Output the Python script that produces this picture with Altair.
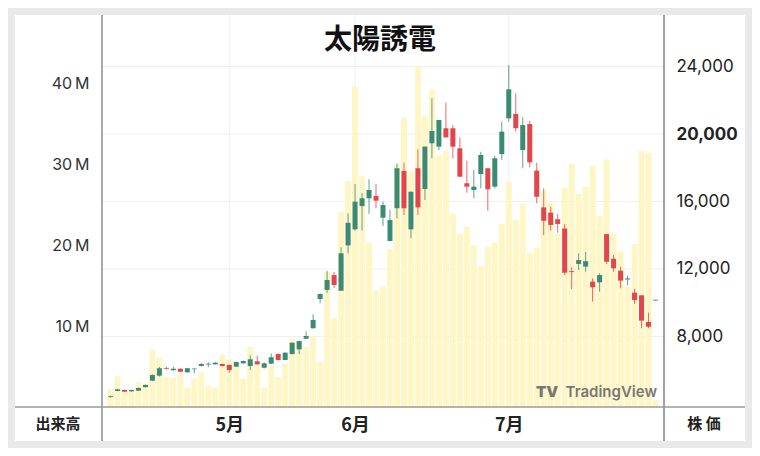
import altair as alt
import pandas as pd

# ---- data (index = trading day) ----
opens = [4410, 4770, 4830, 4750, 4790, 5000, 5380, 5680, 6140, 6000,
         6090, 5880, 6060, 6250, 6340, 6350, 6370, 6310, 6210, 6410,
         6250, 6530, 6150, 6390, 6960, 6610, 6960, 7240, 7870, 8490,
         10220, 10760, 11640, 10710, 13400, 14350, 15730, 16190, 16330, 15040,
         13660, 15600, 17810, 14350, 17970, 16740, 19450, 19250, 20340, 20340,
         19150, 17080, 16680, 17630, 17970, 16880, 18810, 20930, 21190, 19050,
         20590, 17830, 15650, 15340, 14950, 14400, 11870, 12300, 12140, 11250,
         11210, 14070, 12610, 11900, 11380, 10600, 10440, 8860, 10130]
closes = [4460, 4870, 4730, 4830, 4950, 5130, 5720, 6120, 6090, 6090,
          5910, 6120, 6100, 6370, 6390, 6450, 6250, 6010, 6490, 6550,
          6650, 6350, 6410, 6770, 6610, 7040, 7630, 7730, 8030, 8980,
          10520, 11350, 11050, 12930, 14740, 15990, 16190, 16680, 16050, 15790,
          14900, 17970, 15600, 16580, 15650, 19250, 20180, 20830, 19800, 19250,
          17470, 16880, 16880, 18760, 16720, 18560, 20140, 22650, 20340, 20530,
          18320, 16280, 14860, 14610, 14670, 11780, 11820, 12530, 12460, 10920,
          11640, 12430, 12040, 11310, 11440, 10160, 8940, 8580, 10180]
highs = [4480, 4900, 4850, 4850, 4980, 5160, 5760, 6200, 6200, 6200,
         6110, 6140, 6110, 6420, 6470, 6470, 6400, 6330, 6510, 6570,
         6880, 6880, 6470, 7000, 7000, 7070, 7650, 7760, 8300, 9320,
         10550, 11890, 11820, 13290, 15300, 17040, 16490, 17320, 17040, 15990,
         15500, 18260, 18300, 16580, 19090, 19250, 22120, 20830, 21860, 20530,
         19800, 18420, 17870, 18950, 17970, 18700, 20730, 24090, 22410, 21000,
         20790, 18300, 16780, 15690, 15260, 14670, 12100, 12930, 13020, 11450,
         11750, 14070, 12830, 12140, 11620, 10830, 10440, 9410, 10180]
lows = [4380, 4750, 4710, 4730, 4770, 4980, 5350, 5630, 6040, 5980,
        5890, 5860, 5820, 6230, 6180, 6330, 6230, 5850, 6190, 6390,
        6010, 6330, 6100, 6370, 6590, 6590, 6940, 6960, 7850, 8470,
        9970, 10580, 10870, 10710, 12930, 14270, 14270, 15260, 15600, 14550,
        13660, 15000, 15200, 13820, 15200, 16090, 18560, 19050, 19800, 18560,
        17470, 16520, 16190, 16780, 15450, 16780, 18460, 20730, 20140, 17970,
        18030, 15890, 14010, 14270, 14150, 11640, 10800, 11940, 11840, 10060,
        10660, 12300, 11840, 10860, 11030, 9930, 8490, 8490, 10130]
volumes_m = [2.2, 3.8, 2.1, 2.0, 3.1, 2.8, 7.1, 6.1, 3.7, 3.6,
             4.2, 2.4, 3.5, 4.3, 2.6, 2.4, 6.5, 5.9, 5.0, 3.5,
             7.4, 5.2, 2.4, 5.1, 3.7, 5.3, 8.4, 8.1, 7.4, 8.8,
             5.6, 16.7, 11.0, 24.1, 27.9, 39.6, 28.5, 20.3, 14.4, 14.9,
             19.5, 29.9, 35.7, 29.1, 42.0, 35.9, 39.2, 31.1, 31.6, 23.9,
             21.4, 22.3, 20.0, 17.4, 19.8, 20.3, 22.6, 27.8, 23.1, 25.1,
             19.0, 19.7, 26.7, 25.2, 21.4, 27.1, 30.0, 26.3, 27.2, 29.8,
             23.6, 30.6, 21.4, 19.2, 14.9, 20.1, 31.6, 31.4, 0.9]

month_idx = [17, 35, 57]
month_labels = ["5月", "6月", "7月"]
vol_ticks = [10e6, 20e6, 30e6, 40e6]
price_ticks = [8000, 12000, 16000, 20000, 24000]

title_text = "太陽誘電"
left_label = "出来高"
right_label = "株 価"
watermark = "TradingView"

GREEN = "#3b8b74"
RED = "#e2454c"
VOLC = "#fff6c6"
GRID = "#efefef"
FRAME = "#e9e9e9"

n = len(opens)
df = pd.DataFrame({
    "i": list(range(n)),
    "open": opens, "high": highs, "low": lows, "close": closes,
    "volume": [v * 1e6 for v in volumes_m],
})
df["dir"] = ["up" if c >= o else "down" for o, c in zip(opens, closes)]
months_df = pd.DataFrame({"i": month_idx, "label": month_labels})
prices_df = pd.DataFrame({"p": price_ticks})
one = pd.DataFrame({"a": [0]})

W, H = 562, 392
xscale = alt.Scale(domain=[-0.5, n - 0.5], nice=False, zero=False)
price_scale = alt.Scale(domain=[3822, 27052], nice=False, zero=False)
vol_scale = alt.Scale(domain=[0, 48.4e6], nice=False, zero=True)
color_scale = alt.Scale(domain=["up", "down"], range=[GREEN, RED])

month_expr = " : ".join(f"datum.value == {i} ? '{l}'" for i, l in zip(month_idx, month_labels)) + " : ''"

x_axis = alt.Axis(values=month_idx, labelExpr=month_expr, grid=False,
                  domain=False, ticks=False, labelPadding=9,
                  labelFontSize=18, labelFontWeight="bold", labelFlush=False,
                  labelColor="#222", labelFont="Noto Sans CJK JP", title=None)
vol_axis = alt.Axis(orient="left", values=vol_ticks,
                    labelExpr="format(datum.value / 1e6, 'd') + '\u2009M'",
                    grid=False, domain=False, ticks=False, labelPadding=13,
                    labelFontSize=16, labelColor="#333", labelFont="Inter", title=None)
price_axis = alt.Axis(orient="right", values=price_ticks, format=",d", grid=False,
                      domain=False, ticks=False, labelPadding=12,
                      labelFontSize=17, labelColor="#222", labelFont="Inter",
                      labelFontWeight={"condition": {"test": "datum.value == 20000", "value": "bold"},
                                       "value": "normal"},
                      title=None)

X = alt.X("i:Q", scale=xscale, axis=x_axis)

vgrid = alt.Chart(months_df).mark_rule(color=GRID, strokeWidth=1).encode(
    x=X, y=alt.value(0), y2=alt.value(H),
)
hgrid = alt.Chart(prices_df).mark_rule(color=GRID, strokeWidth=1).encode(
    y=alt.Y("p:Q", scale=price_scale, axis=None),
    x=alt.value(0), x2=alt.value(W),
)

vol = alt.Chart(df).mark_bar(width=6, color=VOLC, orient="vertical").encode(
    x=X,
    y=alt.Y("volume:Q", scale=vol_scale, axis=vol_axis),
)

wick = alt.Chart(df).mark_rule(strokeWidth=1, opacity=0.8).encode(
    x=X,
    y=alt.Y("low:Q", scale=price_scale, axis=None),
    y2="high:Q",
    color=alt.Color("dir:N", scale=color_scale, legend=None),
)
body = alt.Chart(df).mark_bar(width=5, orient="vertical").encode(
    x=X,
    y=alt.Y("open:Q", scale=price_scale, axis=price_axis),
    y2="close:Q",
    color=alt.Color("dir:N", scale=color_scale, legend=None),
)


def rect(x, x2, y, y2, color):
    return alt.Chart(one).mark_rect(color=color, clip=False).encode(
        x=alt.value(x), x2=alt.value(x2), y=alt.value(y), y2=alt.value(y2))


def vline(x, y, y2, color, w):
    return alt.Chart(one).mark_rule(color=color, strokeWidth=w, clip=False).encode(
        x=alt.value(x), y=alt.value(y), y2=alt.value(y2))


def hline(y, x, x2, color, w):
    return alt.Chart(one).mark_rule(color=color, strokeWidth=w, clip=False).encode(
        y=alt.value(y), x=alt.value(x), x2=alt.value(x2))


def text(t, x, y, size, weight, color, font, align="center"):
    return alt.Chart(one).mark_text(text=t, fontSize=size, fontWeight=weight, color=color,
                                    font=font, align=align, baseline="middle", clip=False).encode(
        x=alt.value(x), y=alt.value(y))


layers = [
    rect(-94, -87, -7, 433, FRAME),
    rect(643, 650, -7, 433, FRAME),
    rect(-94, 650, -7, 0, FRAME),
    rect(-94, 650, 426, 433, FRAME),
    vgrid, hgrid, vol, wick, body,
    vline(0, 0, 426, "#8c8c8c", 1.5),
    vline(562, 0, 426, "#444444", 1),
    hline(392, -87, 643, "#9a9a9a", 1.5),
    text(title_text, 278, 26, 28, "bold", "#111", "Noto Sans CJK JP"),
    text(left_label, -44, 409, 15, "bold", "#222", "Noto Sans CJK JP"),
    text(right_label, 602, 409, 15, "bold", "#222", "Noto Sans CJK JP"),
    text(watermark, 555, 377, 15, 600, "#777777", "Inter", align="right"),
    text("TV", 445, 377, 15, 900, "#777777", "Inter"),
]

chart = alt.layer(*layers).resolve_scale(y="independent").properties(
    width=W, height=H,
    autosize=alt.AutoSizeParams(type="none"),
    padding={"left": 94, "top": 7, "right": 88, "bottom": 41},
    background="white",
).configure_view(stroke=None)

chart.save("out.html", embed_options={"renderer": "svg", "actions": False})
